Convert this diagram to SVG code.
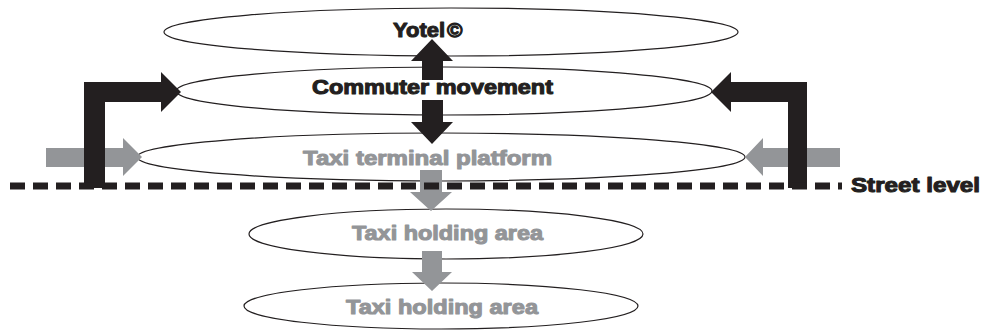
<svg xmlns="http://www.w3.org/2000/svg" width="983" height="330" viewBox="0 0 983 330">
  <style>
    .lvl { fill: #ffffff; stroke: #231f20; stroke-width: 1.2; }
    .lbl { font-family: "Liberation Sans", Arial, sans-serif; font-weight: bold; font-size: 21px; stroke-width: 1.1; stroke-linejoin: round; }
    .dark { fill: #231f20; stroke: #231f20; }
    .grey { fill: #939598; stroke: #939598; }
    .arrD { fill: #231f20; }
    .arrG { fill: #939598; }
    .street { stroke: #231f20; stroke-width: 7; stroke-dasharray: 15 8; fill: none; }
  </style>

  <!-- levels -->
  <g id="yotel">
    <ellipse class="lvl" cx="451" cy="32" rx="287" ry="24"/>
    <text class="lbl dark" x="393" y="37" textLength="52" lengthAdjust="spacingAndGlyphs">Yotel</text>
    <text class="lbl dark" x="447" y="37" font-size="14" stroke-width="0.6">©</text>
  </g>
  <g id="commuter">
    <ellipse class="lvl" cx="444" cy="91" rx="268" ry="24"/>
  </g>
  <g id="terminal">
    <ellipse class="lvl" cx="441" cy="157" rx="304" ry="24"/>
  </g>
  <g id="holding1">
    <ellipse class="lvl" cx="446" cy="234" rx="197" ry="25"/>
  </g>
  <g id="holding2">
    <ellipse class="lvl" cx="441" cy="306" rx="197" ry="23"/>
  </g>

  <!-- connectors -->
  <g id="connectors">
    <!-- grey taxi flows -->
    <polygon class="arrG" points="46,148 123,148 123,138 142,157 123,176 123,167 46,167"/>
    <polygon class="arrG" points="840,148 763,148 763,138 745,157 763,176 763,167 840,167"/>
    <polygon class="arrG" points="420,170 442,170 442,192 452,192 431,211 410,192 420,192"/>
    <polygon class="arrG" points="422,251 442,251 442,272 452,272 432,291 412,272 422,272"/>

    <!-- black commuter flows -->
    <polygon class="arrD" points="84,188 84,82 161,82 161,72 181,92 161,112 161,102 105,102 105,188"/>
    <polygon class="arrD" points="807,188 807,82 731,82 731,72 711,92 731,112 731,102 788,102 788,188"/>
    <polygon class="arrD" points="422,80 422,61 411,61 432,39 453,61 443,61 443,80"/>
    <polygon class="arrD" points="422,100 443,100 443,122 453,122 432,144 411,122 422,122"/>

    <!-- street level -->
    <line class="street" x1="10" y1="186" x2="842" y2="186"/>
  </g>

  <!-- labels -->
  <g id="labels">
    <text class="lbl dark" x="312" y="94" textLength="241" lengthAdjust="spacingAndGlyphs">Commuter movement</text>
    <text class="lbl grey" x="303" y="165" textLength="249" lengthAdjust="spacingAndGlyphs">Taxi terminal platform</text>
    <text class="lbl grey" x="352" y="240" textLength="191" lengthAdjust="spacingAndGlyphs">Taxi holding area</text>
    <text class="lbl grey" x="346" y="314" textLength="192" lengthAdjust="spacingAndGlyphs">Taxi holding area</text>
    <text class="lbl dark" x="851" y="192" textLength="129" lengthAdjust="spacingAndGlyphs">Street level</text>
  </g>
</svg>
